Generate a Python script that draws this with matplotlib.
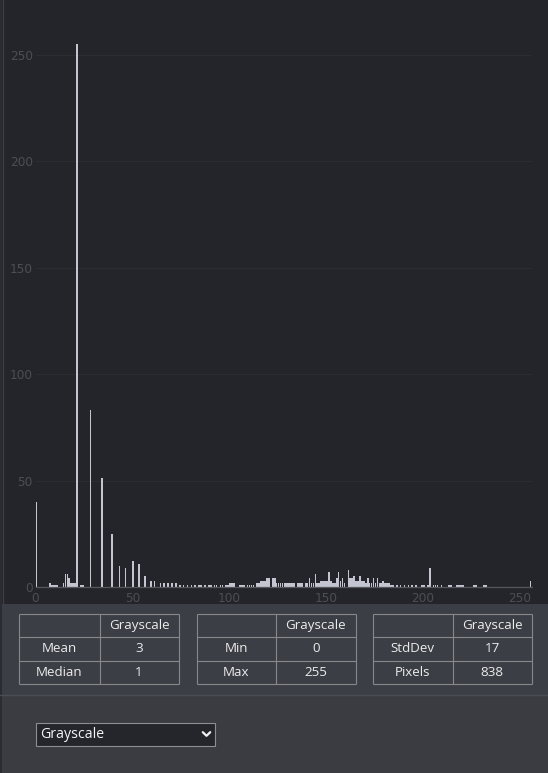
import matplotlib
matplotlib.use("Agg")
import matplotlib.pyplot as plt
from matplotlib.patches import Rectangle
import numpy as np

# ---------------- data ----------------
bins = list(range(256))
counts = [0] * 256
nonzero = {
    0: 40, 7: 2, 8: 1, 9: 1, 10: 1, 11: 1, 14: 2, 15: 6, 16: 6, 17: 4, 18: 2, 19: 2, 20: 2,
    21: 255, 23: 1, 24: 1, 28: 83, 34: 51, 39: 25, 43: 10, 46: 9, 50: 12, 53: 11, 56: 5,
    59: 3, 61: 3, 64: 2, 66: 2, 68: 2, 70: 2, 72: 2, 74: 1, 76: 1, 78: 1, 80: 1, 82: 1,
    84: 1, 85: 1, 87: 1, 89: 1, 90: 1, 92: 1, 93: 1, 95: 1, 96: 1, 98: 1, 99: 1,
    100: 2, 101: 2, 102: 2, 105: 1, 106: 1, 107: 1, 109: 1, 110: 1, 111: 1, 112: 1,
    114: 2, 115: 2, 116: 3, 117: 3, 118: 3, 119: 4, 120: 4, 122: 4, 123: 4,
    124: 2, 125: 2, 126: 2, 127: 2, 128: 2, 129: 2, 130: 2, 131: 2, 132: 2, 133: 2,
    135: 2, 136: 2, 137: 2, 139: 2, 140: 2, 141: 4, 142: 2, 143: 2, 144: 6, 145: 2,
    146: 2, 147: 3, 148: 3, 149: 3, 150: 3, 151: 7, 152: 3, 153: 2, 154: 2, 155: 4,
    156: 7, 157: 3, 158: 4, 159: 2, 161: 8, 162: 4, 163: 4, 164: 5, 165: 3, 166: 3,
    167: 5, 168: 3, 169: 3, 170: 2, 171: 4, 172: 2, 173: 2, 174: 4, 175: 2, 176: 4,
    177: 2, 178: 2, 179: 3, 180: 2, 181: 2, 182: 2, 183: 1, 184: 1, 186: 1, 188: 1,
    190: 1, 192: 1, 194: 1, 196: 1, 199: 1, 200: 1, 202: 1, 203: 9, 205: 1, 206: 1,
    207: 1, 209: 1, 213: 1, 214: 1, 217: 1, 218: 1, 219: 1, 220: 1, 226: 1, 227: 1,
    231: 1, 232: 1, 255: 3,
}
for k, v in nonzero.items():
    counts[k] = v

x_ticks = [0, 50, 100, 150, 200, 250]
y_ticks = [0, 50, 100, 150, 200, 250]

table_cols = ["", "Grayscale"]
table1_rows = [["Mean", "3"], ["Median", "1"]]
table2_rows = [["Min", "0"], ["Max", "255"]]
table3_rows = [["StdDev", "17"], ["Pixels", "838"]]
dropdown_label = "Grayscale"

# ---------------- style ----------------
W, H = 548, 773
CHART_BG = "#23252b"
PANEL_BG = "#3c3e45"
BAR = "#c3c6d0"
TICK = "#4c4e54"
GRID = "#2b2d33"
BORDER = "#86888c"
TXT = "#ececec"

fig = plt.figure(figsize=(W / 100, H / 100), dpi=100)

bg = fig.add_axes([0, 0, 1, 1], zorder=0)
bg.set_xlim(0, W)
bg.set_ylim(H, 0)
bg.axis("off")
bg.add_patch(Rectangle((0, 0), W, 604, facecolor=CHART_BG, edgecolor="none"))
bg.add_patch(Rectangle((0, 604), W, H - 604, facecolor=PANEL_BG, edgecolor="none"))
bg.add_patch(Rectangle((0, 694.5), W, H - 694.5, facecolor="#3a3c42", edgecolor="none"))
bg.plot([0, W], [694.5, 694.5], color="#4b4d54", lw=1.0)
bg.add_patch(Rectangle((0, 0), 2.2, H, facecolor="#2a2c32", edgecolor="none"))
bg.plot([2.7, 2.7], [0, 604], color="#3e4046", lw=0.9)

# ---------------- histogram ----------------
ax_l, ax_r, ax_b, ax_t = 35.5, 531.6, 587.0, 0.0
ax = fig.add_axes([ax_l / W, (H - ax_b) / H, (ax_r - ax_l) / W, (ax_b - ax_t) / H], zorder=2)
ax.set_facecolor("none")
ax.bar(bins, counts, width=0.86, align="edge", color=BAR, zorder=3)
ax.set_xlim(0, 256)
ax.set_ylim(0, (ax_b - ax_t) / 2.128)
ax.set_xticks(x_ticks)
ax.set_yticks(y_ticks)
ax.tick_params(axis="both", length=0, colors=TICK, labelsize=8.7)
ax.tick_params(axis="y", pad=2)
ax.tick_params(axis="x", pad=3.5)
ax.yaxis.grid(True, color=GRID, lw=0.8, zorder=0)
ax.set_axisbelow(True)
for s in ["top", "right", "left"]:
    ax.spines[s].set_visible(False)
ax.spines["bottom"].set_color("#55575c")
ax.spines["bottom"].set_linewidth(0.9)
ax.spines["bottom"].set_zorder(4)

# ---------------- tables ----------------
ROWS_Y = [613.5, 637.0, 660.5, 684.0]
FONT = "Open Sans"


def draw_table(x0, xd, x1, rows):
    for y in ROWS_Y:
        bg.plot([x0, x1], [y, y], color=BORDER, lw=0.8, solid_capstyle="butt")
    for x in (x0, xd, x1):
        bg.plot([x, x], [ROWS_Y[0], ROWS_Y[-1]], color=BORDER, lw=0.8, solid_capstyle="butt")
    cells = [table_cols] + rows
    for r, row in enumerate(cells):
        yc = (ROWS_Y[r] + ROWS_Y[r + 1]) / 2
        for c, txt in enumerate(row):
            xc = (x0 + xd) / 2 if c == 0 else (xd + x1) / 2
            bg.text(xc, yc, txt, ha="center", va="center", color=TXT,
                    fontsize=9.6, family=FONT)


draw_table(19.0, 99.5, 178.5, table1_rows)
draw_table(196.5, 276.0, 355.5, table2_rows)
draw_table(372.5, 453.0, 531.5, table3_rows)

# ---------------- dropdown ----------------
bg.add_patch(Rectangle((35.5, 723), 179, 23, facecolor="#24262c", edgecolor="#8c8e92", lw=0.8))
bg.text(40, 734.8, dropdown_label, ha="left", va="center", color="#f4f4f4",
        fontsize=10.2, family=FONT)
bg.plot([202.8, 206.5, 210.2], [732.2, 735.8, 732.2], color="#f2f2f2", lw=1.6,
        solid_capstyle="round", solid_joinstyle="round")

fig.savefig("out.png", dpi=100)
